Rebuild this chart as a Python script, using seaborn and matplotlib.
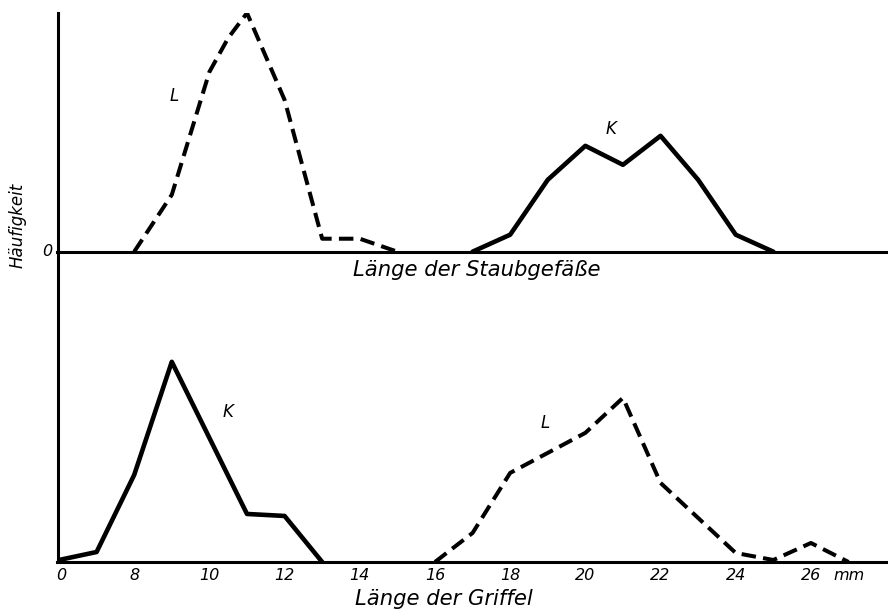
import pandas as pd
import matplotlib.pyplot as plt
import seaborn as sns

# Upper panel: Länge der Staubgefäße (stamen length, mm) -- frequency in relative units
stamen_L_x = [8, 9, 10, 10.5, 11, 12, 13, 14, 15]
stamen_L_y = [0, 57, 180, 214, 239, 152, 13, 13, 0]
stamen_K_x = [17, 18, 19, 20, 21, 22, 23, 24, 25]
stamen_K_y = [0, 17, 72, 106, 87, 116, 72, 17, 0]

# Lower panel: Länge der Griffel (style length, mm); 6 is the broken-axis "0"
style_K_x = [6, 7, 8, 9, 11, 12, 13]
style_K_y = [2, 10, 87, 200, 48, 46, 0]
style_L_x = [16, 17, 18, 20, 21, 22, 24, 25, 26, 27]
style_L_y = [0, 29, 89, 129, 164, 79, 9, 2, 19, 0]

tick_pos = [6, 8, 10, 12, 14, 16, 18, 20, 22, 24, 26]
tick_labels = ["0", "8", "10", "12", "14", "16", "18", "20", "22", "24", "26"]

sns.set_style("white")
plt.rcParams['font.family'] = ['DejaVu Sans']
plt.rcParams['font.style'] = 'italic'
plt.rcParams['text.color'] = 'black'
plt.rcParams['xtick.color'] = 'black'

fig = plt.figure(figsize=(8.88, 6.10), dpi=100)
W, H = 888, 610
left = 57.5 / W
ax_top = fig.add_axes([left, 1 - 251.7 / H, 1 - left, (251.7 - 13) / H])
ax_bot = fig.add_axes([left, 1 - 562 / H, 1 - left, (562 - 251.7) / H])

dash = (0, (3.6, 1.8))
solid_lw = 3.3
dash_lw = 2.9

df_top_L = pd.DataFrame({"x": stamen_L_x, "y": stamen_L_y})
df_top_K = pd.DataFrame({"x": stamen_K_x, "y": stamen_K_y})
df_bot_K = pd.DataFrame({"x": style_K_x, "y": style_K_y})
df_bot_L = pd.DataFrame({"x": style_L_x, "y": style_L_y})

sns.lineplot(data=df_top_L, x="x", y="y", ax=ax_top, color="black", lw=dash_lw,
             linestyle=dash, sort=False)
sns.lineplot(data=df_top_K, x="x", y="y", ax=ax_top, color="black", lw=solid_lw, sort=False)
sns.lineplot(data=df_bot_K, x="x", y="y", ax=ax_bot, color="black", lw=solid_lw, sort=False)
sns.lineplot(data=df_bot_L, x="x", y="y", ax=ax_bot, color="black", lw=dash_lw,
             linestyle=dash, sort=False)

xlim = (5.96, 28.05)
for ax in (ax_top, ax_bot):
    ax.set_xlim(*xlim)
    ax.set_facecolor("none")
    for s in ("top", "right"):
        ax.spines[s].set_visible(False)
    for s in ("left", "bottom"):
        ax.spines[s].set_linewidth(2.2)
        ax.spines[s].set_color("black")
    ax.set_xlabel("")
    ax.set_ylabel("")
    ax.set_yticks([])

ax_top.set_ylim(0, 239)
ax_bot.set_ylim(0, 310)

ax_top.set_xticks([])
ax_bot.set_xticks(tick_pos[1:])
ax_bot.set_xticklabels(tick_labels[1:], fontsize=11.5, style="italic")
ax_bot.tick_params(axis="x", direction="in", length=15, width=1.4, pad=4, color="black")
ax_bot.text(6.05, -18, tick_labels[0], ha="center", va="baseline", fontsize=11.5,
            style="italic")
ax_bot.text(26.6, -18, "mm", ha="left", va="baseline", fontsize=11.5, style="italic")

# zero label on the upper baseline
ax_top.text(5.7, 0, "0", ha="center", va="center", fontsize=11.5, style="italic")

# axis titles
ax_top.text(13.82, -8, "Länge der Staubgefäße", ha="left", va="top", fontsize=15.2,
            style="italic")
ax_bot.text(13.88, -27, "Länge der Griffel", ha="left", va="top", fontsize=15.2,
            style="italic")
fig.text(18 / W, 1 - 225 / H, "Häufigkeit", rotation=90, ha="center", va="center",
         fontsize=12, style="italic")

# curve labels
ax_top.text(8.95, 151, "L", fontsize=12, style="italic")
ax_top.text(20.55, 118, "K", fontsize=12, style="italic")
ax_bot.text(10.35, 145, "K", fontsize=12, style="italic")
ax_bot.text(18.8, 134, "L", fontsize=12, style="italic")

fig.savefig("out.png", dpi=100)
